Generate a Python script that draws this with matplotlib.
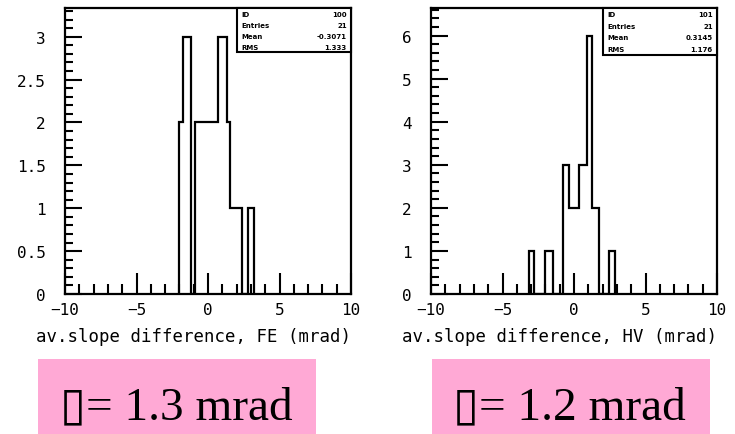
import numpy as np
import matplotlib
matplotlib.use("Agg")
import matplotlib.pyplot as plt
from matplotlib.patches import Rectangle

# FE histogram (bin edges, counts per bin)
fe_edges = [-2.0, -1.72, -1.19, -0.91, 0.72, 1.31, 1.54, 2.35, 2.77, 3.22]
fe_counts = [2, 3, 0, 2, 3, 2, 1, 0, 1]

# HV histogram
hv_edges = [-3.14, -2.77, -2.02, -1.49, -0.74, -0.35, 0.37, 0.88, 1.28, 1.72, 2.44, 2.84]
hv_counts = [1, 0, 1, 0, 3, 2, 3, 6, 2, 0, 1]

x_ticks = [-10, -5, 0, 5, 10]
x_ticklabels = ["\u221210", "\u22125", "0", "5", "10"]
fe_yticks = [0, 0.5, 1, 1.5, 2, 2.5, 3]
fe_yticklabels = ["0", "0.5", "1", "1.5", "2", "2.5", "3"]
hv_yticks = [0, 1, 2, 3, 4, 5, 6]
hv_yticklabels = ["0", "1", "2", "3", "4", "5", "6"]

fe_title = "av.slope difference, FE (mrad)"
hv_title = "av.slope difference, HV (mrad)"

stat_names = ["ID", "Entries", "Mean", "RMS"]
fe_stats = ["100", "21", "-0.3071", "1.333"]
hv_stats = ["101", "21", "0.3145", "1.176"]

fe_sigma = "\u25af= 1.3 mrad"
hv_sigma = "\u25af= 1.2 mrad"

PINK = "#FFA9D5"
ROOT_FONT = "DejaVu Sans Mono"


def draw_hist(ax, edges, counts, ymax, yticks, yticklabels, ystep, ypad, title, stats, box_y0):
    ax.stairs(counts, edges, color="black", lw=1.6, baseline=0)
    ax.set_xlim(-10, 10)
    ax.set_ylim(0, ymax)
    ax.set_xticks(x_ticks)
    ax.set_xticklabels(x_ticklabels, fontsize=11.5, family=ROOT_FONT)
    ax.set_xticks(np.arange(-10, 10.01, 1), minor=True)
    ax.set_yticks(yticks)
    ax.set_yticklabels(yticklabels, fontsize=11.5, family=ROOT_FONT)
    ax.set_yticks(np.arange(0, ymax, ystep), minor=True)
    ax.tick_params(which="both", direction="in", top=False, right=False, width=1.5, color="black")
    ax.tick_params(axis="x", which="major", length=15, pad=6)
    ax.tick_params(axis="x", which="minor", length=7)
    ax.tick_params(axis="y", which="major", length=12, pad=ypad)
    ax.tick_params(axis="y", which="minor", length=6)
    for sp in ax.spines.values():
        sp.set_linewidth(1.6)
    ax.set_xlabel(title, fontsize=12.5, family=ROOT_FONT, ha="right")
    ax.xaxis.set_label_coords(1.0, -0.115)

    # stats box
    ax.add_patch(Rectangle((0.6, box_y0), 0.4, 1 - box_y0, transform=ax.transAxes,
                           facecolor="white", edgecolor="black", lw=1.5, zorder=5, clip_on=False))
    h = (1 - box_y0) / 4
    for i, (name, val) in enumerate(zip(stat_names, stats)):
        yy = 1 - h * (i + 0.5)
        ax.text(0.615, yy, name, transform=ax.transAxes, fontsize=5, fontweight="bold",
                va="center", ha="left", zorder=6)
        ax.text(0.985, yy, val, transform=ax.transAxes, fontsize=5, fontweight="bold",
                va="center", ha="right", zorder=6)


fig = plt.figure(figsize=(7.35, 4.35), dpi=100)

ax1 = fig.add_axes([65 / 735, 140 / 435, 286 / 735, 286 / 435])
draw_hist(ax1, fe_edges, fe_counts, 3.335, fe_yticks, fe_yticklabels, 0.1, 14, fe_title, fe_stats, 0.846)

ax2 = fig.add_axes([431 / 735, 140 / 435, 286 / 735, 286 / 435])
draw_hist(ax2, hv_edges, hv_counts, 6.64, hv_yticks, hv_yticklabels, 0.2, 14, hv_title, hv_stats, 0.836)

# pink sigma boxes
for x0, txt_x, txt in [(38, 60, fe_sigma), (432, 453, hv_sigma)]:
    fig.patches.append(Rectangle((x0 / 735, 0), 278 / 735, 75 / 435, transform=fig.transFigure,
                                 facecolor=PINK, edgecolor="none"))
    fig.text(txt_x / 735, 16 / 435, txt, fontsize=34, family=["Liberation Serif", "DejaVu Sans"],
             va="baseline", ha="left")

fig.savefig("out.png", dpi=100)
